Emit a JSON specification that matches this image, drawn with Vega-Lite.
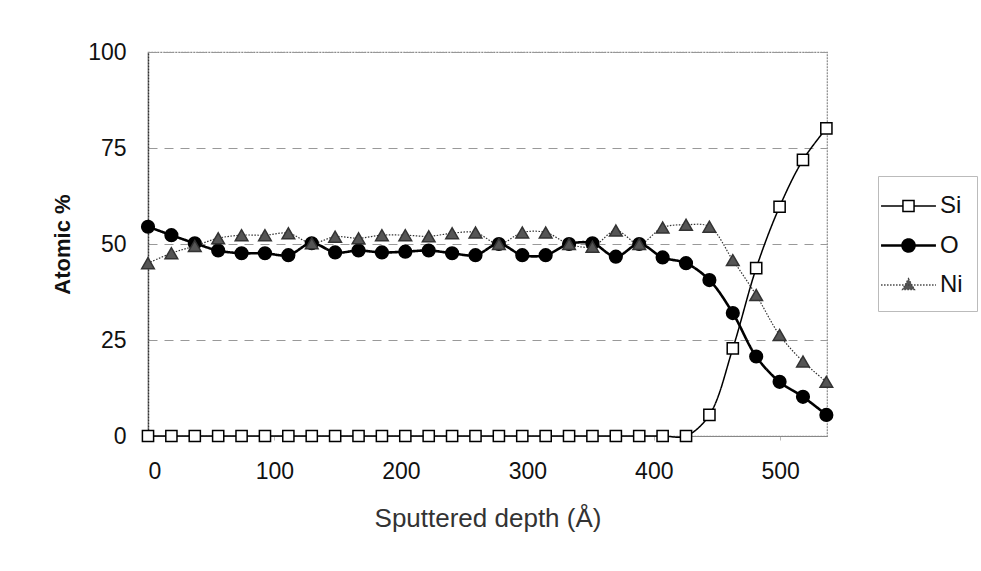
{
  "$schema": "https://vega.github.io/schema/vega-lite/v6.json",
  "width": 679,
  "height": 384,
  "autosize": {"type": "none"},
  "padding": {"left": 148, "top": 52, "right": 154, "bottom": 135},
  "background": "white",
  "config": {
    "font": "Liberation Sans",
    "view": {"stroke": "#8a8a8a", "strokeWidth": 1.2, "strokeDash": [2, 1]}
  },
  "data": {
    "values": [
      {"d": 0, "s": "Si", "v": 0}, {"d": 18.5, "s": "Si", "v": 0}, {"d": 37, "s": "Si", "v": 0}, {"d": 55.5, "s": "Si", "v": 0},
      {"d": 74, "s": "Si", "v": 0}, {"d": 92.5, "s": "Si", "v": 0}, {"d": 111, "s": "Si", "v": 0}, {"d": 129.5, "s": "Si", "v": 0},
      {"d": 148, "s": "Si", "v": 0}, {"d": 166.5, "s": "Si", "v": 0}, {"d": 185, "s": "Si", "v": 0}, {"d": 203.5, "s": "Si", "v": 0},
      {"d": 222, "s": "Si", "v": 0}, {"d": 240.5, "s": "Si", "v": 0}, {"d": 259, "s": "Si", "v": 0}, {"d": 277.5, "s": "Si", "v": 0},
      {"d": 296, "s": "Si", "v": 0}, {"d": 314.5, "s": "Si", "v": 0}, {"d": 333, "s": "Si", "v": 0}, {"d": 351.5, "s": "Si", "v": 0},
      {"d": 370, "s": "Si", "v": 0}, {"d": 388.5, "s": "Si", "v": 0}, {"d": 407, "s": "Si", "v": 0}, {"d": 425.5, "s": "Si", "v": 0},
      {"d": 444, "s": "Si", "v": 5.5}, {"d": 462.5, "s": "Si", "v": 22.8}, {"d": 481, "s": "Si", "v": 43.7}, {"d": 499.5, "s": "Si", "v": 59.7},
      {"d": 518, "s": "Si", "v": 71.9}, {"d": 536.5, "s": "Si", "v": 80.1},

      {"d": 0, "s": "O", "v": 54.5}, {"d": 18.5, "s": "O", "v": 52.3}, {"d": 37, "s": "O", "v": 50.2}, {"d": 55.5, "s": "O", "v": 48.3},
      {"d": 74, "s": "O", "v": 47.6}, {"d": 92.5, "s": "O", "v": 47.6}, {"d": 111, "s": "O", "v": 47.1}, {"d": 129.5, "s": "O", "v": 50.2},
      {"d": 148, "s": "O", "v": 47.8}, {"d": 166.5, "s": "O", "v": 48.3}, {"d": 185, "s": "O", "v": 47.8}, {"d": 203.5, "s": "O", "v": 48},
      {"d": 222, "s": "O", "v": 48.3}, {"d": 240.5, "s": "O", "v": 47.6}, {"d": 259, "s": "O", "v": 47.1}, {"d": 277.5, "s": "O", "v": 50},
      {"d": 296, "s": "O", "v": 47.1}, {"d": 314.5, "s": "O", "v": 47.1}, {"d": 333, "s": "O", "v": 50}, {"d": 351.5, "s": "O", "v": 50.2},
      {"d": 370, "s": "O", "v": 46.7}, {"d": 388.5, "s": "O", "v": 50}, {"d": 407, "s": "O", "v": 46.5}, {"d": 425.5, "s": "O", "v": 45},
      {"d": 444, "s": "O", "v": 40.6}, {"d": 462.5, "s": "O", "v": 32}, {"d": 481, "s": "O", "v": 20.7}, {"d": 499.5, "s": "O", "v": 14.1},
      {"d": 518, "s": "O", "v": 10.2}, {"d": 536.5, "s": "O", "v": 5.5},

      {"d": 0, "s": "Ni", "v": 45}, {"d": 18.5, "s": "Ni", "v": 47.6}, {"d": 37, "s": "Ni", "v": 49.5}, {"d": 55.5, "s": "Ni", "v": 51.5},
      {"d": 74, "s": "Ni", "v": 52.3}, {"d": 92.5, "s": "Ni", "v": 52.3}, {"d": 111, "s": "Ni", "v": 52.8}, {"d": 129.5, "s": "Ni", "v": 50.2},
      {"d": 148, "s": "Ni", "v": 51.9}, {"d": 166.5, "s": "Ni", "v": 51.5}, {"d": 185, "s": "Ni", "v": 52.3}, {"d": 203.5, "s": "Ni", "v": 52.3},
      {"d": 222, "s": "Ni", "v": 52}, {"d": 240.5, "s": "Ni", "v": 52.8}, {"d": 259, "s": "Ni", "v": 53}, {"d": 277.5, "s": "Ni", "v": 50},
      {"d": 296, "s": "Ni", "v": 53}, {"d": 314.5, "s": "Ni", "v": 53}, {"d": 333, "s": "Ni", "v": 50}, {"d": 351.5, "s": "Ni", "v": 49.3},
      {"d": 370, "s": "Ni", "v": 53.5}, {"d": 388.5, "s": "Ni", "v": 50}, {"d": 407, "s": "Ni", "v": 54.3}, {"d": 425.5, "s": "Ni", "v": 55},
      {"d": 444, "s": "Ni", "v": 54.5}, {"d": 462.5, "s": "Ni", "v": 45.8}, {"d": 481, "s": "Ni", "v": 36.7}, {"d": 499.5, "s": "Ni", "v": 26.3},
      {"d": 518, "s": "Ni", "v": 19.4}, {"d": 536.5, "s": "Ni", "v": 14.1}
    ]
  },
  "encoding": {
    "x": {
      "field": "d", "type": "quantitative",
      "scale": {"domain": [0, 537], "nice": false, "zero": false},
      "axis": {
        "title": "Sputtered depth (Å)", "values": [0, 100, 200, 300, 400, 500],
        "grid": false, "domainColor": "#888", "domainWidth": 1.2,
        "ticks": true, "tickSize": 4, "tickColor": "#bbb",
        "labelFontSize": 23, "labelColor": "#111", "labelPadding": 20, "labelFont": "Liberation Sans",
        "titleFontSize": 26, "titleFontWeight": "normal", "titleColor": "#333", "titlePadding": 22, "titleFont": "Liberation Sans"
      }
    },
    "y": {
      "field": "v", "type": "quantitative",
      "scale": {"domain": [0, 100], "nice": false},
      "axis": {
        "title": "Atomic %", "values": [0, 25, 50, 75, 100],
        "grid": true, "gridColor": "#999", "gridDash": [9, 7], "gridWidth": 1.2,
        "domainColor": "#333", "domainDash": [2, 1], "domainWidth": 1.5,
        "ticks": false, "labelPadding": 22,
        "labelFontSize": 23, "labelColor": "#111", "labelFont": "Liberation Sans",
        "titleFontSize": 22, "titleFontWeight": "bold", "titleColor": "#111", "titlePadding": 13, "titleFont": "Liberation Sans"
      }
    }
  },
  "resolve": {
    "scale": {"shape": "independent", "fill": "independent", "stroke": "independent", "strokeDash": "independent", "strokeWidth": "independent", "size": "independent"}
  },
  "layer": [
    {
      "mark": {"type": "line", "interpolate": "catmull-rom"},
      "encoding": {
        "detail": {"field": "s"},
        "stroke": {"field": "s", "type": "nominal", "scale": {"type": "ordinal", "domain": ["Ni", "O", "Si"], "range": ["#333333", "#000000", "#000000"]}, "legend": null},
        "strokeWidth": {"field": "s", "type": "nominal", "scale": {"type": "ordinal", "domain": ["Ni", "O", "Si"], "range": [1.2, 2.6, 1.5]}, "legend": null},
        "strokeDash": {"field": "s", "type": "nominal", "scale": {"type": "ordinal", "domain": ["Ni", "O", "Si"], "range": [[1.5, 1.5], [1, 0], [1, 0]]}, "legend": null}
      }
    },
    {
      "mark": {"type": "point", "filled": true, "opacity": 1, "strokeWidth": 1.5},
      "encoding": {
        "size": {"field": "s", "type": "nominal", "scale": {"type": "ordinal", "domain": ["Ni", "O", "Si"], "range": [160, 160, 125]}, "legend": null},
        "stroke": {"field": "s", "type": "nominal", "scale": {"type": "ordinal", "domain": ["Ni", "O", "Si"], "range": ["#333333", "#000000", "#000000"]}, "legend": null},
        "fill": {"field": "s", "type": "nominal", "scale": {"type": "ordinal", "domain": ["Ni", "O", "Si"], "range": ["#555555", "#000000", "#ffffff"]}, "legend": null},
        "shape": {"field": "s", "type": "nominal", "scale": {"domain": ["Ni", "O", "Si"], "range": ["triangle-up", "circle", "square"]}, "legend": null}
      }
    },
    {
      "mark": {"type": "point", "filled": true, "opacity": 1, "size": 0},
      "encoding": {
        "fill": {"field": "s", "type": "nominal", "scale": {"type": "ordinal", "domain": ["Si", "O", "Ni"], "range": ["#ffffff", "#000000", "#555555"]}},
        "stroke": {"field": "s", "type": "nominal", "scale": {"type": "ordinal", "domain": ["Si", "O", "Ni"], "range": ["#000000", "#000000", "#444444"]}},
        "strokeWidth": {"field": "s", "type": "nominal", "scale": {"type": "ordinal", "domain": ["Si", "O", "Ni"], "range": [1.5, 2.6, 1.3]}},
        "strokeDash": {"field": "s", "type": "nominal", "scale": {"type": "ordinal", "domain": ["Si", "O", "Ni"], "range": [[1, 0], [1, 0], [1.5, 1.5]]}},
        "shape": {
          "field": "s", "type": "nominal",
          "scale": {
            "domain": ["Si", "O", "Ni"],
            "range": [
              "M-1.83,0H-0.37M0.37,0H1.83M-0.37,-0.37H0.37V0.37H-0.37Z",
              "M-1.83,0H1.83M0.4,0A0.4,0.4 0 1,1 -0.4,0A0.4,0.4 0 1,1 0.4,0Z",
              "M-1.83,0H1.83M0,-0.42L0.4,0.3H-0.4Z"
            ]
          },
          "legend": {
            "title": null, "orient": "none", "legendX": 730, "legendY": 124,
            "direction": "vertical",
            "strokeColor": "#bbb", "padding": 14, "fillColor": "white",
            "symbolSize": 900, "rowPadding": 11, "labelOffset": 15,
            "symbolOpacity": 1,
            "labelFontSize": 24, "labelColor": "#111", "labelFont": "Liberation Sans"
          }
        }
      }
    }
  ]
}
